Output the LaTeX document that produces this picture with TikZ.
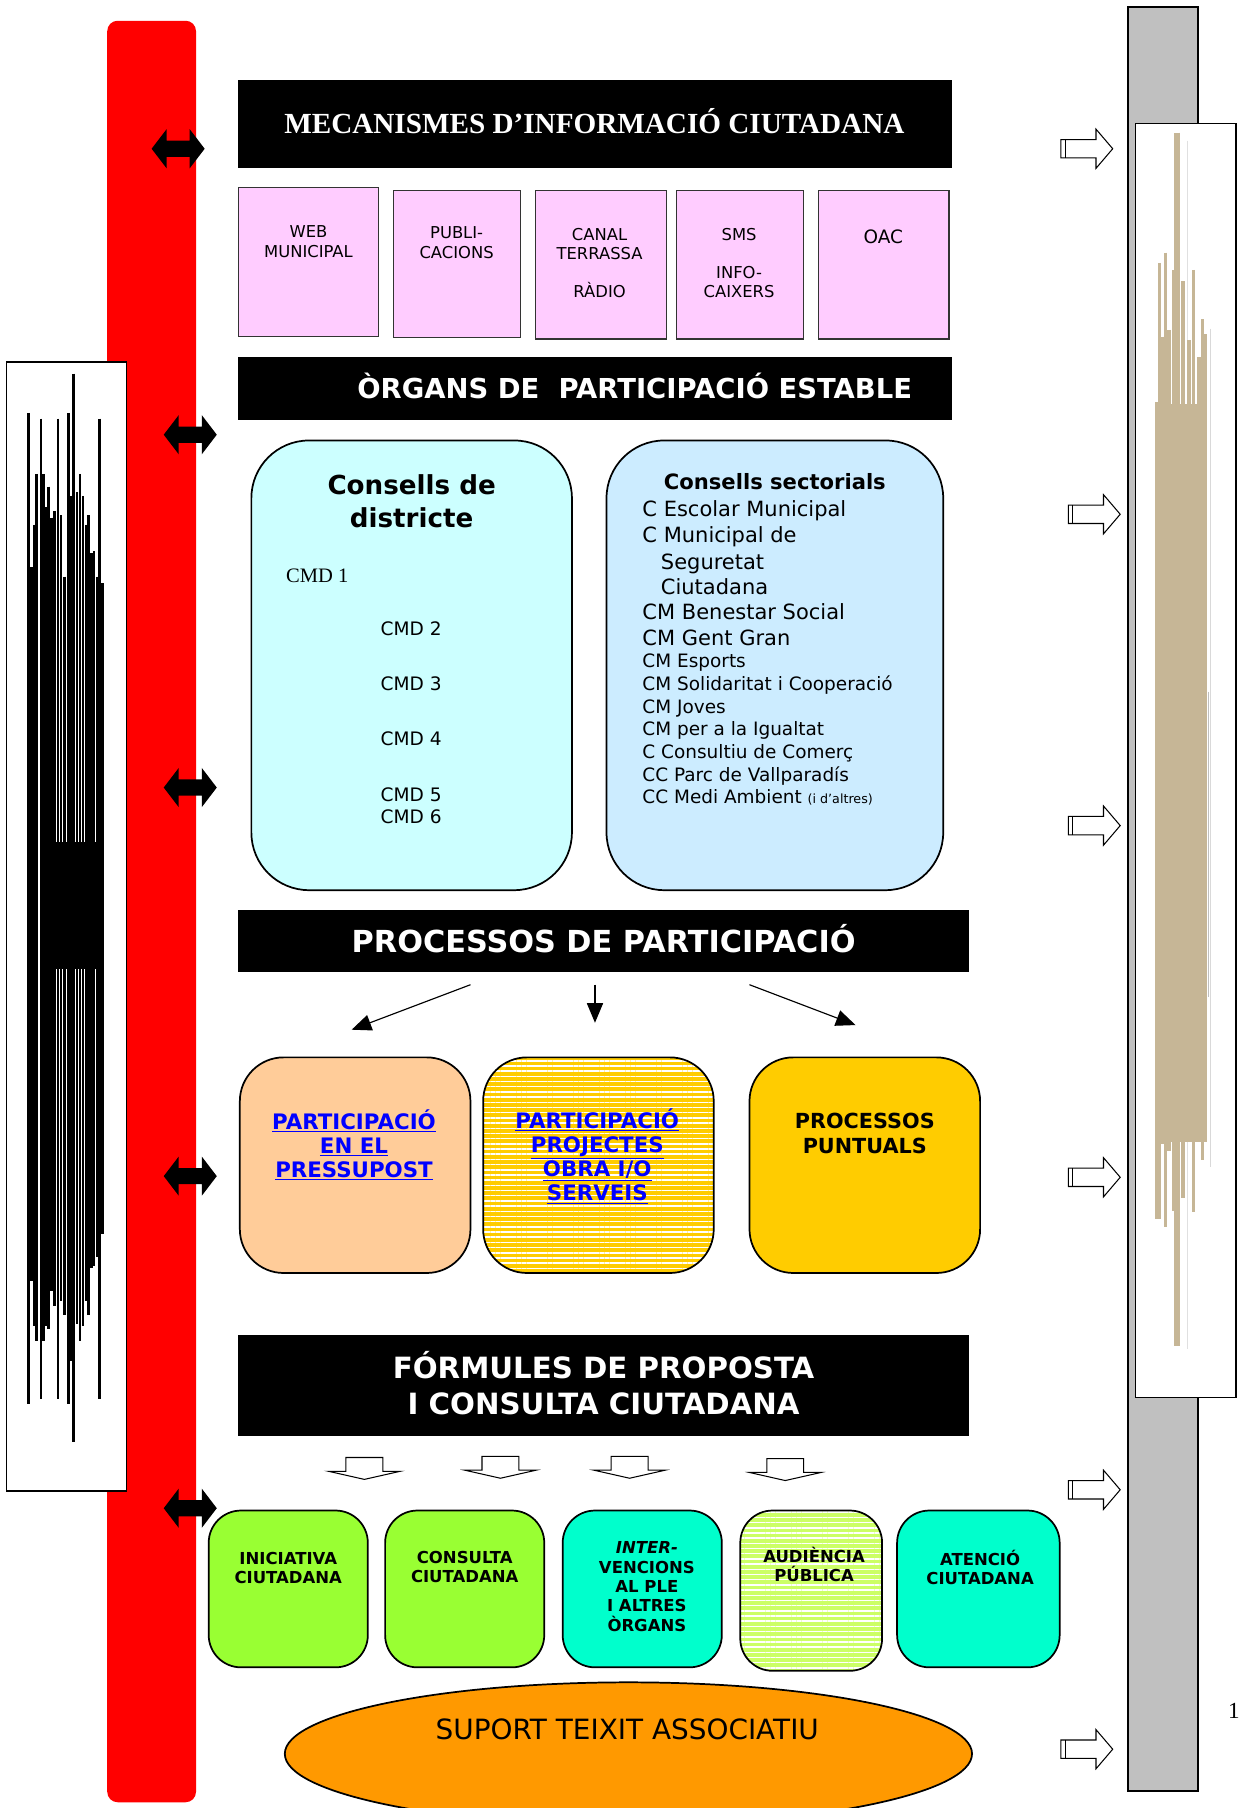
\documentclass[tikz,border=0pt]{standalone}
\usepackage{fontspec}
\setmainfont{Liberation Serif}
\newfontfamily\vd{DejaVu Sans}
\usetikzlibrary{arrows.meta,patterns.meta,shapes.geometric}
\definecolor{pinkc}{HTML}{FFCCFF}
\definecolor{cyanc}{HTML}{CCFFFF}
\definecolor{bluec}{HTML}{CCECFF}
\definecolor{peach}{HTML}{FFCC99}
\definecolor{goldc}{HTML}{FFCC00}
\definecolor{limec}{HTML}{99FF33}
\definecolor{aquac}{HTML}{00FFCC}
\definecolor{lgreen}{HTML}{CCFF66}
\definecolor{orngc}{HTML}{FF9900}
\definecolor{redbar}{HTML}{FF0000}
\definecolor{grayc}{HTML}{C0C0C0}
\definecolor{tanc}{RGB}{198,182,150}
\definecolor{linkblue}{HTML}{0000FF}
\begin{document}
\begin{tikzpicture}[x=1pt,y=-1pt,
  hdr/.style={fill=black,draw=black,inner sep=0pt},
  hdrtext/.style={text=white,inner sep=0pt,align=center},
  pinkbox/.style={fill=pinkc,draw=black!80,line width=0.9pt,inner sep=0pt},
  pinktext/.style={inner sep=0pt,align=center,font=\vd\fontsize{14.2}{17}\selectfont},
  bigbox/.style={draw=black,line width=1.5pt,inner sep=0pt,rounded corners=50pt},
  procbox/.style={draw=black,line width=1.5pt,inner sep=0pt,rounded corners=38pt,minimum width=200pt,minimum height=187pt},
  greenbox/.style={draw=black,line width=1.5pt,inner sep=0pt,rounded corners=28pt},
  stripes/.style={pattern={Lines[angle=0,distance=4.5pt,line width=1.3pt]},pattern color=white},
  sect/.style={anchor=base west,inner sep=0pt,font=\vd\fontsize{18.2}{20}\selectfont},
  sects/.style={anchor=base west,inner sep=0pt,font=\vd\fontsize{16}{18}\selectfont},
  cmd/.style={anchor=west,inner sep=0pt,font=\vd\fontsize{16.1}{18}\selectfont},
  proctext/.style={inner sep=0pt,align=center,font=\vd\bfseries\fontsize{18}{21}\selectfont},
  greentext/.style={inner sep=0pt,align=center,font=\vd\bfseries\fontsize{14.3}{16.8}\selectfont},
  parr/.style={line width=1pt,-{Triangle[length=17pt,width=14pt]}},
  dblarr/.pic={\fill[black] (-23,0) -- (-10,-17) -- (-10,-7) -- (10,-7) -- (10,-17) -- (23,0) -- (10,17) -- (10,7) -- (-10,7) -- (-10,17) -- cycle;},
  hollarr/.pic={\draw[fill=white,line width=0.9pt] (-22.5,-8) -- (8,-8) -- (8,-17) -- (22.5,0) -- (8,17) -- (8,8) -- (-22.5,8) -- cycle;
                \draw[line width=0.9pt] (-18.5,-8) -- (-18.5,8);},
  downarr/.pic={\draw[fill=white,line width=0.9pt] (-16,-10) -- (16,-10) -- (16,2) -- (31,2) -- (0,9) -- (-31,2) -- (-16,2) -- cycle;}
]
\useasboundingbox (0,0) rectangle (1075,1568);
\clip (0,0) rectangle (1075,1568);
\fill[white] (0,0) rectangle (1075,1568);

% ---------- left red bar and image ----------
\fill[redbar,rounded corners=9pt] (93,18) rectangle (170,1563);
\node[draw=black,fill=white,line width=1pt,minimum width=104pt,minimum height=979pt,inner sep=0pt] (limg) at (58,803.5) {};
\fill[black] (38,730) rectangle (87,840);
\foreach \xx/\tt/\bb/\ww in {24.6/358/1218/2,27.5/492/1111/2.4,29.6/455/1150/1.8,31.6/411/1163/2.2,35.3/363/1213/2,37.8/411/1163/2.4,40.2/440/1150/1.8,42.2/422/1153/2.2,44.8/449/1120/2.2,47.2/443/1133/2,50.6/363/1213/2,53/447/1128/2.2,56/500/1140/2.4,59.3/358/1218/2,61.6/430/1180/2,63.8/324/1251/3,66.6/427/1148/2.2,69.4/411/1163/2.4,72/430/1150/2,74.6/455/1128/2.2,76.8/447/1140/2,79.2/480/1100/2.2,81.6/478/1098/2,84/500/1090/2.2,86.2/363/1213/2,89/506/1070/2}
  \draw[line width=\ww pt] (\xx,\tt) -- (\xx,\bb);

\pic at (154.5,129) {dblarr};
\pic at (165,377) {dblarr};
\pic at (165,683) {dblarr};
\pic at (165,1020) {dblarr};
\pic at (165,1308) {dblarr};

% ---------- right gray bar and image ----------
\node[fill=grayc,draw=black,line width=1.6pt,minimum width=61pt,minimum height=1547pt,inner sep=0pt] (gbar) at (1008.5,779.5) {};
\node[fill=white,draw=black,line width=1.2pt,minimum width=87pt,minimum height=1105pt,inner sep=0pt] (rimg) at (1028.5,659.5) {};
\draw[black!12,line width=1pt] (1030,122) -- (1030,1170);
\draw[black!15,line width=1.2pt] (1050,285) -- (1050,1012);
\draw[black!25,line width=1.5pt] (1048,600) -- (1048,865);
\fill[tanc] (1003,350) rectangle (1046,990);
\foreach \xx/\tt/\bb/\ww in {1003/349/1057/3,1005.5/228/1057/2.5,1008/292/992/3,1011/219/1064/2.5,1014/286/998/3,1018/234/1050/3,1021/115/1167/5,1026/244/1039/3,1031/295/989/3,1035/234/1051/3,1040/310/966/3,1043/277/1006/2.5,1045.5/290/990/2}
  \draw[tanc,line width=\ww pt] (\xx,\tt) -- (\xx,\bb);

\pic at (942.5,129) {hollarr};
\pic at (949,446) {hollarr};
\pic at (949,716) {hollarr};
\pic at (949,1021) {hollarr};
\pic at (949,1292) {hollarr};
\pic at (942.5,1517) {hollarr};

\node[inner sep=0pt] (pg) at (1070,1484) {\fontsize{20}{24}\selectfont 1};

% ---------- MECANISMES ----------
\node[hdr,minimum width=618pt,minimum height=75pt] (t1) at (516,107.5) {};
\node[hdrtext,font=\bfseries\fontsize{25.3}{28}\selectfont] (t1txt) at (515.5,105) {MECANISMES D’INFORMACIÓ CIUTADANA};

\node[pinkbox,minimum width=121pt,minimum height=129pt] (p1) at (267.5,227.5) {};
\node[pinkbox,minimum width=110pt,minimum height=128pt] (p2) at (396,229) {};
\node[pinkbox,minimum width=114pt,minimum height=129pt] (p3) at (521,229.5) {};
\node[pinkbox,minimum width=110pt,minimum height=129pt] (p4) at (642,229.5) {};
\node[pinkbox,minimum width=113pt,minimum height=129pt] (p5) at (766.5,229.5) {};
\node[pinktext] (p1t) at (267.5,209.5) {WEB\\MUNICIPAL};
\node[pinktext] (p2t) at (396,210.5) {PUBLI-\\CACIONS};
\node[pinktext] (p3t) at (520,228) {CANAL\\TERRASSA\\[16pt]RÀDIO};
\node[pinktext] (p4t) at (641,228) {SMS\\[16pt]INFO-\\CAIXERS};
\node[pinktext,font=\vd\fontsize{16}{18}\selectfont] (p5t) at (766,205) {OAC};

% ---------- ORGANS ----------
\node[hdr,minimum width=618pt,minimum height=54pt] (t2) at (516,337) {};
\node[hdrtext,font=\vd\bfseries\fontsize{23.8}{26}\selectfont] (t2txt) at (550.5,335) {ÒRGANS DE\ \ PARTICIPACIÓ ESTABLE};

\node[bigbox,fill=cyanc,minimum width=278pt,minimum height=390pt] (cd) at (357,577) {};
\node[bigbox,fill=bluec,minimum width=292pt,minimum height=390pt] (cs) at (672,577) {};

\node[inner sep=0pt,align=center,font=\vd\bfseries\fontsize{22.7}{29}\selectfont] (cdt) at (357,434.5) {Consells de\\districte};
\node[anchor=west,inner sep=0pt,font=\fontsize{17.8}{20}\selectfont] (cmd1) at (248,499) {CMD 1};
\node[cmd] (cmd2) at (330,545) {CMD 2};
\node[cmd] (cmd3) at (330,593) {CMD 3};
\node[cmd] (cmd4) at (330,641) {CMD 4};
\node[cmd] (cmd5) at (330,689) {CMD 5};
\node[cmd] (cmd6) at (330,708) {CMD 6};

\node[anchor=base,inner sep=0pt,font=\vd\bfseries\fontsize{18.3}{20}\selectfont] (cst) at (672,424.5) {Consells sectorials};
\node[sect] (s1) at (557,447.5) {C Escolar Municipal};
\node[sect] (s2) at (557,470.5) {C Municipal de};
\node[sect] (s3) at (573,493.5) {Seguretat};
\node[sect] (s4) at (573,515.5) {Ciutadana};
\node[sect] (s5) at (557,537.5) {CM Benestar Social};
\node[sect] (s6) at (557,559.5) {CM Gent Gran};
\node[sects] (s7) at (557,578.8) {CM Esports};
\node[sects] (s8) at (557,598.8) {CM Solidaritat i Cooperació};
\node[sects] (s9) at (557,618.8) {CM Joves};
\node[sects] (s10) at (557,637.8) {CM per a la Igualtat};
\node[sects] (s11) at (557,657.8) {C Consultiu de Comerç};
\node[sects] (s12) at (557,677.8) {CC Parc de Vallparadís};
\node[sects] (s13) at (557,696.8) {CC Medi Ambient {\fontsize{11}{12}\selectfont (i d’altres)}};

% ---------- PROCESSOS ----------
\node[hdr,minimum width=633pt,minimum height=53pt] (t3) at (523.5,815.5) {};
\node[hdrtext,font=\vd\bfseries\fontsize{26.3}{28}\selectfont] (t3txt) at (523.5,814) {PROCESSOS DE PARTICIPACIÓ};

\coordinate (a1s) at (408,854);
\coordinate (a1e) at (305,893);
\coordinate (a2s) at (516,854);
\coordinate (a2e) at (516,887);
\coordinate (a3s) at (650,854);
\coordinate (a3e) at (742,889);
\draw[parr] (a1s) -- (a1e);
\draw[parr] (a2s) -- (a2e);
\draw[parr] (a3s) -- (a3e);

\node[procbox,fill=peach] (b1) at (308,1010.5) {};
\node[procbox,preaction={fill=goldc},stripes] (b2) at (519,1010.5) {};
\node[procbox,fill=goldc] (b3) at (750,1010.5) {};
\node[proctext,text=linkblue,font=\vd\bfseries\fontsize{18.5}{21}\selectfont] (b1t) at (307,993) {\underline{PARTICIPACIÓ}\\\underline{EN EL}\\\underline{PRESSUPOST}};
\node[proctext,text=linkblue,font=\vd\bfseries\fontsize{18.5}{21}\selectfont] (b2t) at (518,1002.5) {\underline{PARTICIPACIÓ}\\\underline{PROJECTES}\\\underline{OBRA I/O}\\\underline{SERVEIS}};
\node[proctext] (b3t) at (750,983) {PROCESSOS\\PUNTUALS};

% ---------- FORMULES ----------
\node[hdr,minimum width=633pt,minimum height=87pt] (t4) at (523.5,1201.5) {};
\node[hdrtext,font=\vd\bfseries\fontsize{25.4}{31}\selectfont] (t4txt) at (523.5,1199.5) {FÓRMULES DE PROPOSTA\\I CONSULTA CIUTADANA};

\pic at (316,1274) {downarr};
\pic at (434,1273) {downarr};
\pic at (546,1273) {downarr};
\pic at (681,1275) {downarr};

\node[greenbox,fill=limec,minimum width=138pt,minimum height=136pt] (g1) at (250,1378) {};
\node[greenbox,fill=limec,minimum width=138pt,minimum height=136pt] (g2) at (403,1378) {};
\node[greenbox,fill=aquac,minimum width=138pt,minimum height=136pt] (g3) at (557,1378) {};
\node[greenbox,preaction={fill=lgreen},stripes,minimum width=123pt,minimum height=139pt] (g4) at (703.5,1379.5) {};
\node[greenbox,fill=aquac,minimum width=141pt,minimum height=136pt] (g5) at (848.5,1378) {};
\node[greentext] (g1t) at (250,1360) {INICIATIVA\\CIUTADANA};
\node[greentext] (g2t) at (403,1359) {CONSULTA\\CIUTADANA};
\node[greentext] (g3t) at (561,1376) {\itshape INTER-\\VENCIONS\\AL PLE\\I ALTRES\\ÒRGANS};
\node[greentext] (g4t) at (706,1357) {AUDIÈNCIA\\PÚBLICA};
\node[greentext] (g5t) at (850,1359.5) {ATENCIÓ\\CIUTADANA};

% ---------- ellipse ----------
\node[ellipse,draw=black,line width=1.5pt,fill=orngc,minimum width=596pt,minimum height=124pt,inner sep=0pt] (ell) at (545,1521) {};
\node[inner sep=0pt,font=\vd\fontsize{24.2}{26}\selectfont] (ellt) at (544,1500) {SUPORT TEIXIT ASSOCIATIU};
\end{tikzpicture}
\end{document}
